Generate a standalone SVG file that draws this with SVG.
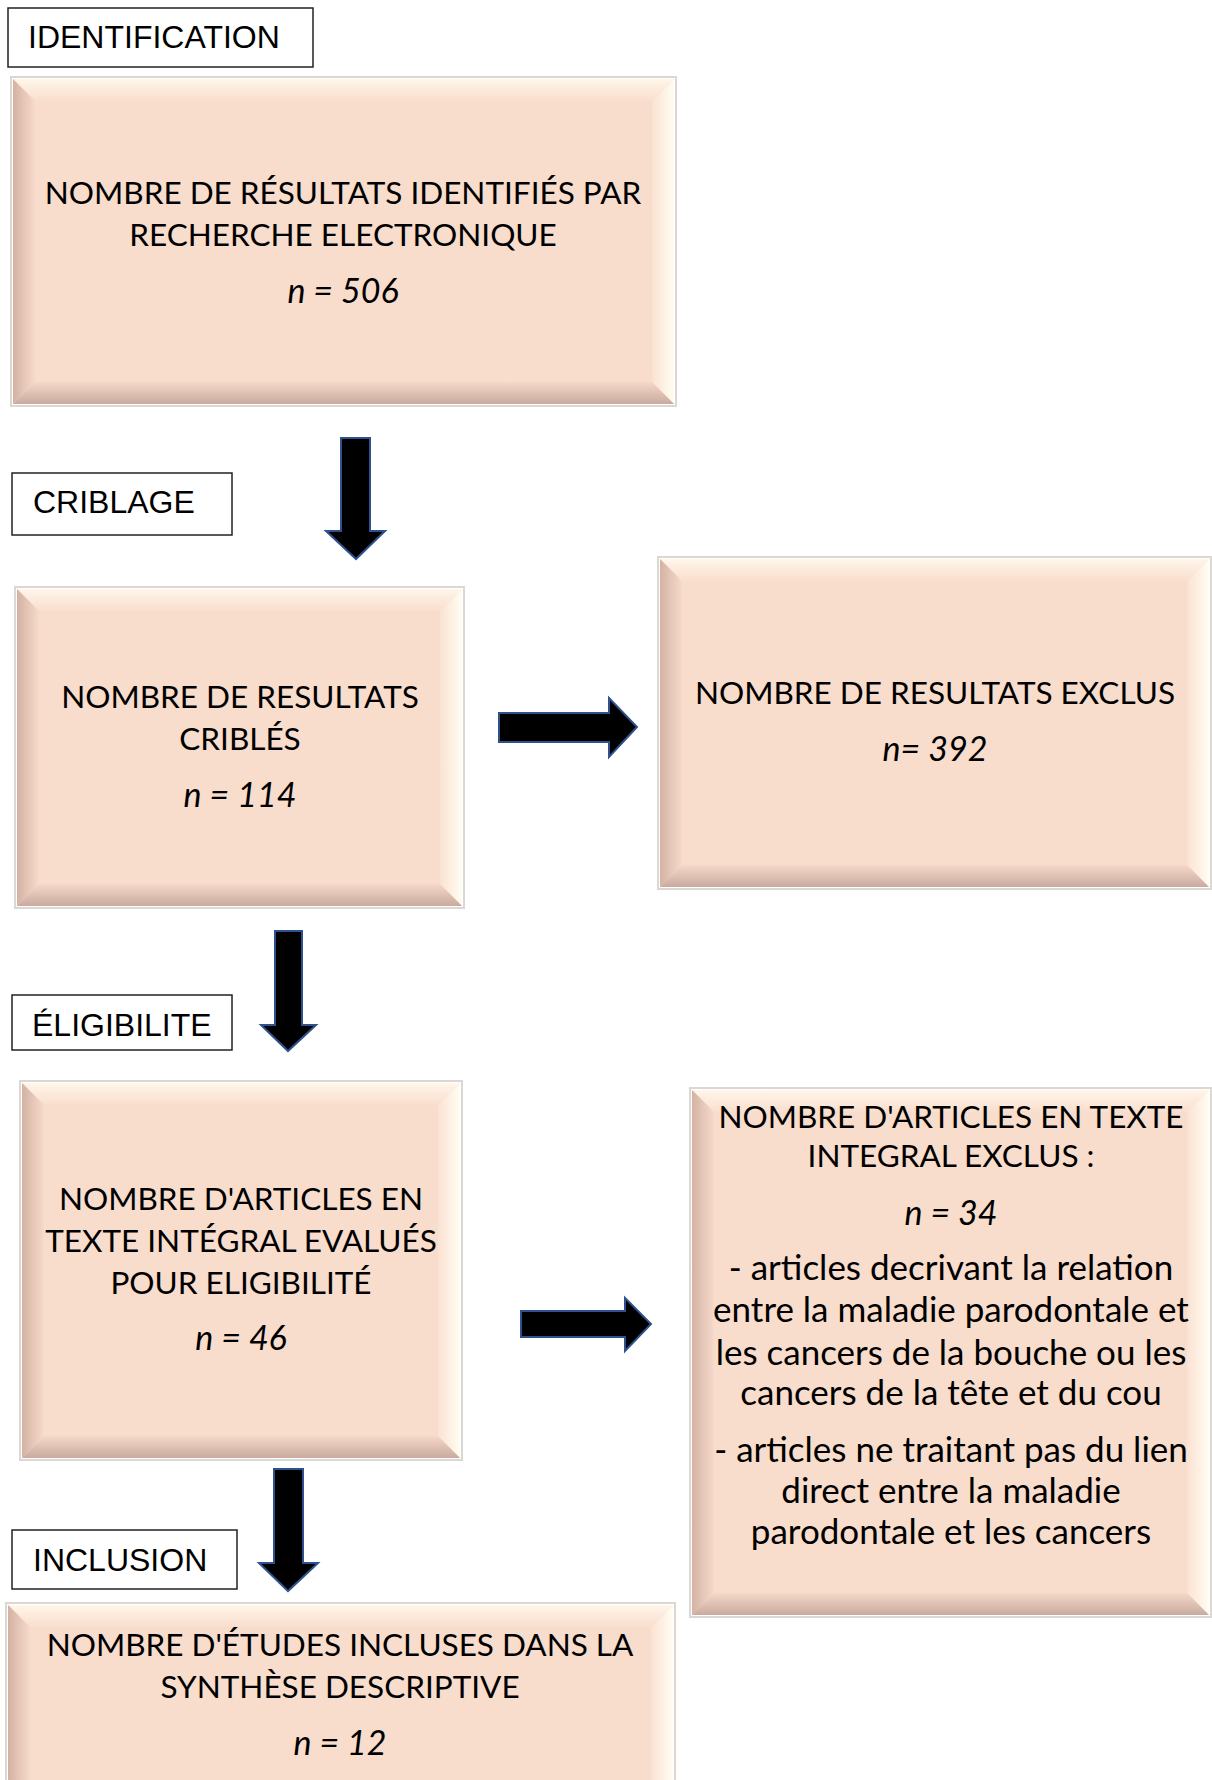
<svg xmlns="http://www.w3.org/2000/svg" width="1212" height="1780" viewBox="0 0 1212 1780">
<defs>
<linearGradient id="gTop" x1="0" y1="0" x2="0" y2="1"><stop offset="0" stop-color="#fff6ea"/><stop offset="1" stop-color="#f9dece"/></linearGradient>
<linearGradient id="gLeft" x1="0" y1="0" x2="1" y2="0"><stop offset="0" stop-color="#d3b2a3"/><stop offset="1" stop-color="#f7dacb"/></linearGradient>
<linearGradient id="gRight" x1="1" y1="0" x2="0" y2="0"><stop offset="0" stop-color="#fffdf2"/><stop offset="1" stop-color="#fbe2d3"/></linearGradient>
<linearGradient id="gBot" x1="0" y1="1" x2="0" y2="0"><stop offset="0" stop-color="#c8ab9e"/><stop offset="1" stop-color="#f5d8c9"/></linearGradient>
<style>
.frame{fill:#ffffff;stroke:#dcd7d3;stroke-width:2}
.fill{fill:#f8dccc}
.bt{fill:url(#gTop)}
.bl{fill:url(#gLeft)}
.br{fill:url(#gRight)}
.bb{fill:url(#gBot)}
.t{font-family:Lato,"Open Sans",sans-serif;font-size:31.5px;fill:#000;text-anchor:middle}
.tl{font-size:35px}
.ti{font-style:italic;font-size:34px}
.lab{fill:#ffffff;stroke:#222222;stroke-width:1.5}
.lt{font-family:"Liberation Sans",Arial,sans-serif;font-size:32px;fill:#000}
.arr{fill:#000000;stroke:#2f528f;stroke-width:2;stroke-linejoin:miter}
</style>
</defs>
<rect width="1212" height="1780" fill="#ffffff"/>

<g id="label-identification">
<rect class="lab" x="8" y="8" width="305" height="59"/>
<text class="lt" x="28" y="48">IDENTIFICATION</text>
</g>
<g id="label-criblage">
<rect class="lab" x="12" y="473" width="220" height="62"/>
<text class="lt" x="33" y="513">CRIBLAGE</text>
</g>
<g id="label-eligibilite">
<rect class="lab" x="12" y="995" width="220" height="55"/>
<text class="lt" x="32" y="1036">ÉLIGIBILITE</text>
</g>
<g id="label-inclusion">
<rect class="lab" x="12" y="1530" width="225" height="59"/>
<text class="lt" x="33" y="1571">INCLUSION</text>
</g>

<g id="box-identifies">
<rect class="frame" x="11" y="77" width="665" height="329"/>
<rect class="fill" x="13" y="79" width="661" height="325"/>
<polygon class="bt" points="13,79 674,79 652,101 35,101"/>
<polygon class="bl" points="13,79 35,101 35,382 13,404"/>
<polygon class="br" points="674,79 674,404 652,382 652,101"/>
<polygon class="bb" points="13,404 35,382 652,382 674,404"/>
<text class="t" x="343" y="204">NOMBRE DE RÉSULTATS IDENTIFIÉS PAR</text>
<text class="t" x="343" y="246">RECHERCHE ELECTRONIQUE</text>
<text class="t ti" x="343" y="303">n = 506</text>
</g>

<g id="box-cribles">
<rect class="frame" x="15" y="587" width="449" height="321"/>
<rect class="fill" x="17" y="589" width="445" height="317"/>
<polygon class="bt" points="17,589 462,589 440,611 39,611"/>
<polygon class="bl" points="17,589 39,611 39,884 17,906"/>
<polygon class="br" points="462,589 462,906 440,884 440,611"/>
<polygon class="bb" points="17,906 39,884 440,884 462,906"/>
<text class="t" x="240" y="708">NOMBRE DE RESULTATS</text>
<text class="t" x="240" y="750">CRIBLÉS</text>
<text class="t ti" x="240" y="807">n = 114</text>
</g>

<g id="box-exclus">
<rect class="frame" x="658" y="557" width="553" height="332"/>
<rect class="fill" x="660" y="559" width="549" height="328"/>
<polygon class="bt" points="660,559 1209,559 1187,581 682,581"/>
<polygon class="bl" points="660,559 682,581 682,865 660,887"/>
<polygon class="br" points="1209,559 1209,887 1187,865 1187,581"/>
<polygon class="bb" points="660,887 682,865 1187,865 1209,887"/>
<text class="t" x="935" y="704">NOMBRE DE RESULTATS EXCLUS</text>
<text class="t ti" x="935" y="761">n= 392</text>
</g>

<g id="box-evalues">
<rect class="frame" x="20" y="1081" width="442" height="379"/>
<rect class="fill" x="22" y="1083" width="438" height="375"/>
<polygon class="bt" points="22,1083 460,1083 438,1105 44,1105"/>
<polygon class="bl" points="22,1083 44,1105 44,1436 22,1458"/>
<polygon class="br" points="460,1083 460,1458 438,1436 438,1105"/>
<polygon class="bb" points="22,1458 44,1436 438,1436 460,1458"/>
<text class="t" x="241" y="1210">NOMBRE D'ARTICLES EN</text>
<text class="t" x="241" y="1252">TEXTE INTÉGRAL EVALUÉS</text>
<text class="t" x="241" y="1294">POUR ELIGIBILITÉ</text>
<text class="t ti" x="241" y="1350">n = 46</text>
</g>

<g id="box-articles-exclus">
<rect class="frame" x="690" y="1088" width="521" height="529"/>
<rect class="fill" x="692" y="1090" width="517" height="525"/>
<polygon class="bt" points="692,1090 1209,1090 1187,1112 714,1112"/>
<polygon class="bl" points="692,1090 714,1112 714,1593 692,1615"/>
<polygon class="br" points="1209,1090 1209,1615 1187,1593 1187,1112"/>
<polygon class="bb" points="692,1615 714,1593 1187,1593 1209,1615"/>
<text class="t" x="951" y="1128">NOMBRE D'ARTICLES EN TEXTE</text>
<text class="t" x="951" y="1167">INTEGRAL EXCLUS :</text>
<text class="t ti" x="951" y="1225">n = 34</text>
<text class="t tl" x="951" y="1280">- articles decrivant la relation</text>
<text class="t tl" x="951" y="1322">entre la maladie parodontale et</text>
<text class="t tl" x="951" y="1365">les cancers de la bouche ou les</text>
<text class="t tl" x="951" y="1405">cancers de la tête et du cou</text>
<text class="t tl" x="951" y="1462">- articles ne traitant pas du lien</text>
<text class="t tl" x="951" y="1503">direct entre la maladie</text>
<text class="t tl" x="951" y="1544">parodontale et les cancers</text>
</g>

<g id="box-inclus">
<rect class="frame" x="6" y="1603" width="669" height="200"/>
<rect class="fill" x="8" y="1605" width="665" height="195"/>
<polygon class="bt" points="8,1605 673,1605 651,1627 30,1627"/>
<polygon class="bl" points="8,1605 30,1627 30,1800 8,1800"/>
<polygon class="br" points="673,1605 673,1800 651,1800 651,1627"/>
<text class="t" x="340" y="1656">NOMBRE D'ÉTUDES INCLUSES DANS LA</text>
<text class="t" x="340" y="1698">SYNTHÈSE DESCRIPTIVE</text>
<text class="t ti" x="340" y="1755">n = 12</text>
</g>

<g id="connectors">
<polygon class="arr" points="341,438 370,438 370,531 385,531 356,559 326,531 341,531"/>
<polygon class="arr" points="499,713 609,713 609,698 637,727 609,757 609,742 499,742"/>
<polygon class="arr" points="275,931 302,931 302,1025 316,1025 288,1051 261,1025 275,1025"/>
<polygon class="arr" points="521,1311 625,1311 625,1298 651,1324 625,1351 625,1337 521,1337"/>
<polygon class="arr" points="274,1469 303,1469 303,1563 318,1563 288,1591 259,1563 274,1563"/>
</g>
</svg>
